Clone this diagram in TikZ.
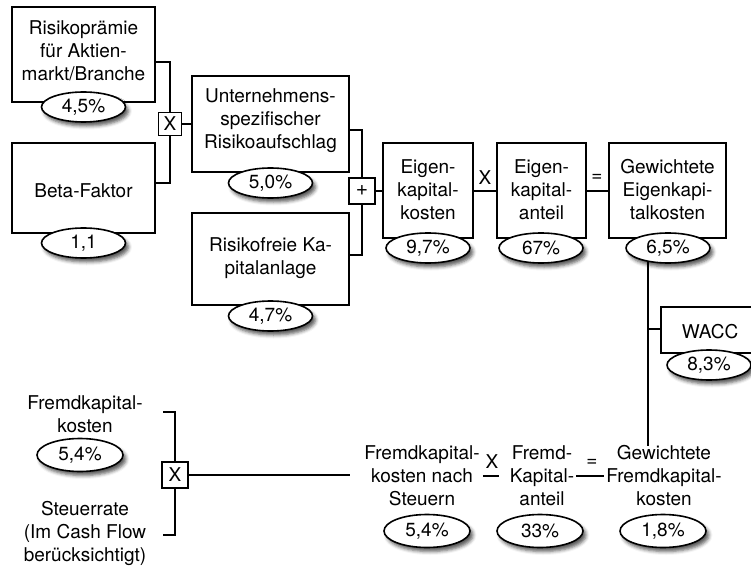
\documentclass[tikz,border=0pt]{standalone}
\usepackage{fontspec}
\setmainfont{TeX Gyre Heros}
\usetikzlibrary{shapes.geometric,shadows.blur}

\begin{document}
\begin{tikzpicture}[x=1pt,y=-1pt,
  every node/.style={font=\fontsize{19}{23}\selectfont, inner sep=0pt},
  box/.style={draw, line width=1.4pt, fill=white, rectangle},
  txt/.style={align=center},
  val/.style={draw, ellipse, line width=1.6pt, fill=white,
    minimum width=84pt, minimum height=30pt,
    blur shadow={shadow xshift=3pt, shadow yshift=-4pt,
      shadow blur radius=3.5pt, shadow opacity=65}},
  bigval/.style={val, minimum width=86pt, minimum height=33pt},
  op/.style={draw, line width=1.2pt, fill=white, rectangle},
  link/.style={line width=1.4pt}
]
\clip (0,0) rectangle (751,569);

% ---------- cost of equity ----------
\node[box, minimum width=143pt, minimum height=95pt] (prem) at (83.5,54.5) {};
\node[txt] (premt) at (83.5,51) {Risikoprämie\\für Aktien-\\markt/Branche};
\node[box, minimum width=143pt, minimum height=90pt] (beta) at (83.5,188) {};
\node[txt] (betat) at (83.5,191) {Beta-Faktor};

\node[box, minimum width=157pt, minimum height=96pt] (unt) at (270.5,124) {};
\node[txt] (untt) at (270.5,121) {Unternehmens-\\spezifischer\\Risikoaufschlag};
\node[box, minimum width=157pt, minimum height=92pt] (rf) at (270.5,259) {};
\node[txt] (rft) at (270.5,258) {Risikofreie Ka-\\pitalanlage};

\node[box, minimum width=90pt, minimum height=95pt] (ekk) at (428,190.5) {};
\node[txt] (ekkt) at (428,190) {Eigen-\\kapital-\\kosten};
\node[box, minimum width=89pt, minimum height=95pt] (eka) at (541.5,190.5) {};
\node[txt] (ekat) at (541.5,190) {Eigen-\\kapital-\\anteil};
\node[box, minimum width=117pt, minimum height=95pt] (gek) at (667.5,190.5) {};
\node[txt] (gekt) at (667.5,190) {Gewichtete\\Eigenkapi-\\talkosten};

\node[box, minimum width=114pt, minimum height=46pt] (wacc) at (718,330) {};
\node[txt] (wacct) at (710,332) {WACC};

% junction points of the brackets
\coordinate (j1) at (170,62);
\coordinate (j2) at (170,183);
\coordinate (j3) at (362,130);
\coordinate (j4) at (362,255);
\coordinate (k) at (648,329);

\node[op, minimum width=23pt, minimum height=23pt] (x1) at (170,124) {X};
\node[op, minimum width=26pt, minimum height=26pt] (plus) at (362,191) {\fontsize{21}{23}\selectfont +};

\draw[link] (prem.east |- j1) -- (j1) -- (x1);
\draw[link] (x1) -- (j2) -- (beta.east |- j2);
\draw[link] (x1) -- (unt.west |- x1);
\draw[link] (unt.east |- j3) -- (j3) -- (plus);
\draw[link] (plus) -- (j4) -- (rf.east |- j4);
\draw[link] (plus) -- (ekk.west |- plus);
\draw[link] (ekk.east |- plus) -- (eka.west |- plus);
\draw[link] (eka.east |- plus) -- (gek.west |- plus);
\node (opx) at (485,178) {X};
\node (opeq) at (597,178) {=};

% ---------- cost of debt ----------
\node[txt] (fk) at (85,414) {Fremdkapital-\\kosten};
\node[txt] (st) at (85,533) {Steuerrate\\(Im Cash Flow\\berücksichtigt)};
\coordinate (j5) at (175,412);
\coordinate (j5a) at (163,412);
\coordinate (j6) at (175,535);
\coordinate (j6a) at (163,535);
\node[op, minimum width=26pt, minimum height=26pt] (x2) at (175,475) {X};

\node[txt] (fks) at (422,476) {Fremdkapital-\\kosten nach\\Steuern};
\node[txt] (fka) at (542,476) {Fremd-\\Kapital-\\anteil};
\node[txt] (gfk) at (664,476) {Gewichtete\\Fremdkapital-\\kosten};

\draw[link] (j5a) -- (j5) -- (x2);
\draw[link] (x2) -- (j6) -- (j6a);
\draw[link, shorten >=14pt] (x2) -- (fks.west |- x2);
\draw[link, shorten <=3pt, shorten >=11pt] (fks) -- (fka);
\draw[link, shorten <=2pt, shorten >=2pt] (fka) -- (gfk);
\node (opx2) at (492,462) {X};
\node (opeq2) at (592,463) {=};

% vertical link from the weighted cost of equity down to the weighted cost of debt
\draw[link] (gek.south -| k) -- (gfk.north -| k);
\draw[link] (k) -- (wacc.west |- k);

% ---------- values ----------
\node[val] (v1) at (83.5,107) {4,5\%};
\node[val] (v2) at (83.5,243) {1,1};
\node[val] (v3) at (270.5,183) {5,0\%};
\node[val] (v4) at (270.5,316) {4,7\%};
\node[val] (v5) at (428,248) {9,7\%};
\node[val] (v6) at (541,248) {67\%};
\node[val] (v7) at (668,248) {6,5\%};
\node[val] (v8) at (709,365) {8,3\%};
\node[bigval] (v9) at (80,455) {5,4\%};
\node[bigval] (v10) at (427,531) {5,4\%};
\node[bigval] (v11) at (540,531) {33\%};
\node[bigval] (v12) at (663,531) {1,8\%};
\end{tikzpicture}
\end{document}
